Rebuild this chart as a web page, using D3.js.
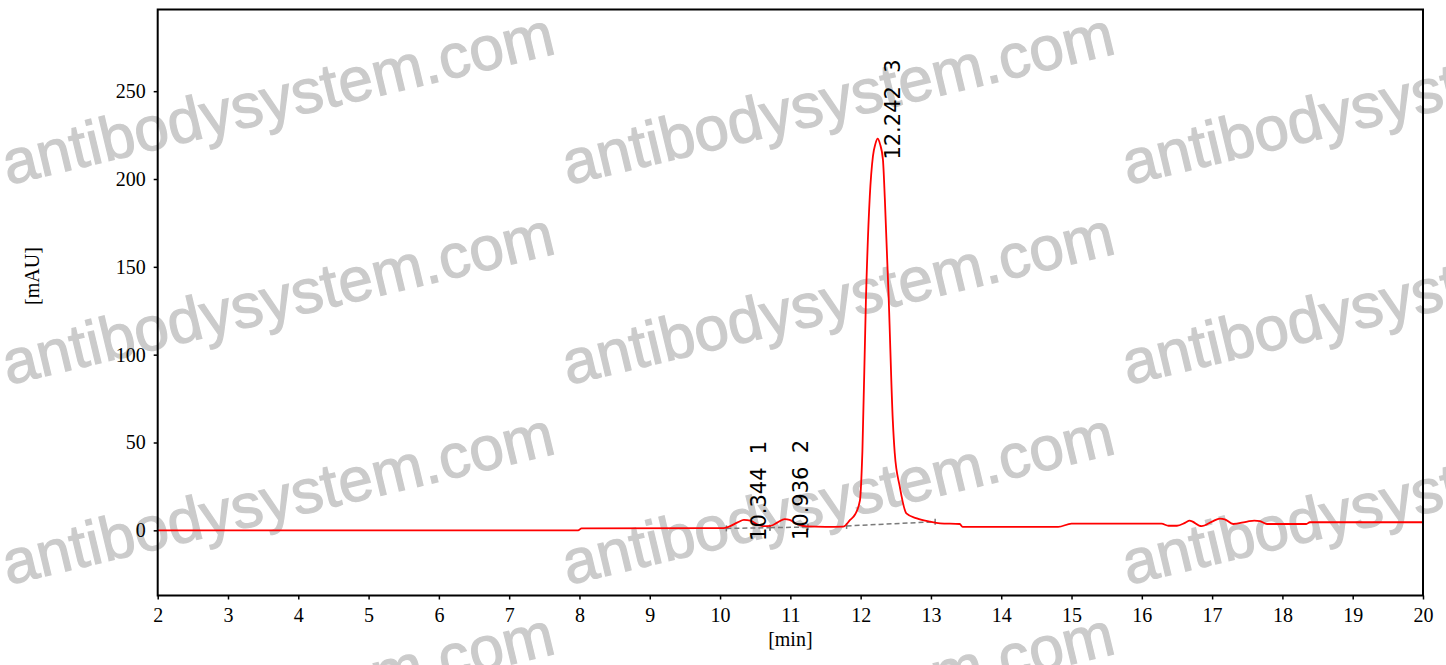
<!DOCTYPE html>
<html>
<head>
<meta charset="utf-8">
<script src="https://cdn.jsdelivr.net/npm/d3@7"></script>
<style>
  body { margin: 0; background: #fff; }
  svg { display: block; }
</style>
</head>
<body>
<svg id="chart" width="1446" height="665"></svg>
<script>
// trace: retention time [min] and signal [mAU]
const times  = [2.0, 7.98, 8.03, 10.05, 10.12, 10.25, 10.34, 10.43, 10.55, 10.62, 10.72, 10.82, 10.92, 10.99, 11.10, 11.23, 11.50, 11.75,
                11.85, 11.92, 11.99, 12.025, 12.075, 12.13, 12.175, 12.21, 12.242, 12.275, 12.317, 12.345, 12.40, 12.457, 12.485, 12.556,
                12.65, 12.80, 12.99, 13.13, 13.41, 13.45, 14.81, 15.0, 16.28, 16.38, 16.5, 16.62, 16.68, 16.85, 17.0, 17.11, 17.18,
                17.30, 17.5, 17.6, 17.68, 17.78, 18.34, 18.39, 20.0];
const signal = [0, 0, 1.1, 1.3, 2.0, 4.5, 5.9, 5.5, 3.0, 2.4, 2.5, 4.5, 6.4, 5.9, 3.5, 2.2, 2.0, 2.1,
                5.9, 9, 17, 45, 131, 190, 213, 220, 223, 220, 211, 188, 131, 63, 44, 25,
                9.7, 6.8, 4.9, 4.0, 3.6, 2.0, 2.0, 3.8, 3.8, 2.6, 2.6, 4.4, 5.5, 2.4, 5.0, 6.7, 6.3,
                3.6, 5.0, 5.5, 5.2, 3.6, 3.6, 4.6, 4.6];

// integrated peaks
const peakTimes  = [10.344, 10.936, 12.242];
const peakNums   = [1, 2, 3];
const peakApex   = [5.9, 6.4, 223];

// integration baselines [t0, v0, t1, v1]
const baseLines = [[10.09, 1.1, 10.71, 1.5], [10.71, 1.5, 11.25, 1.9], [11.80, 2.5, 13.06, 4.9]];

const xTicks = d3.range(2, 21, 1);
const yTicks = [0, 50, 100, 150, 200, 250];

const wmText = "antibodysystem.com";
const wmCols = [8, 568, 1128];
const wmRows = [185, 385, 585, 785];

const svg = d3.select("#chart");
const plotL = 157.7, plotR = 1423, plotT = 9.5, plotB = 595.5;

const x = d3.scaleLinear().domain([2, 20]).range([plotL, plotR]);
const y = d3.scaleLinear().domain([-37.1, 296.5]).range([plotB, plotT]);

// watermark underneath everything
const wm = svg.append("g");
wmRows.forEach(ry => {
  wmCols.forEach(cx => {
    wm.append("text")
      .attr("transform", `translate(${cx},${ry}) rotate(-13.5)`)
      .attr("font-family", "'Liberation Sans', Arial, sans-serif")
      .attr("font-size", 62)
      .attr("fill", "#cbcbcb")
      .attr("stroke", "#cbcbcb")
      .attr("stroke-width", 1.2)
      .text(wmText);
  });
});

// axes
const xAxis = svg.append("g")
  .attr("transform", `translate(0,${plotB})`)
  .call(d3.axisBottom(x).tickValues(xTicks).tickSize(4).tickPadding(8).tickFormat(d3.format("d")));
const yAxis = svg.append("g")
  .attr("transform", `translate(${plotL},0)`)
  .call(d3.axisLeft(y).tickValues(yTicks).tickSize(4).tickPadding(8).tickFormat(d3.format("d")));

[xAxis, yAxis].forEach(a => {
  a.select(".domain").remove();
  a.selectAll("line").attr("stroke", "#000").attr("stroke-width", 1.5);
  a.selectAll("text")
    .attr("font-family", "'Liberation Serif', 'Times New Roman', serif")
    .attr("font-size", 20)
    .attr("fill", "#000");
});

svg.append("text")
  .attr("x", (plotL + plotR) / 2)
  .attr("y", 646)
  .attr("text-anchor", "middle")
  .attr("font-family", "'Liberation Serif', 'Times New Roman', serif")
  .attr("font-size", 20)
  .text("[min]");

svg.append("text")
  .attr("transform", "translate(39,276) rotate(-90)")
  .attr("text-anchor", "middle")
  .attr("font-family", "'Liberation Serif', 'Times New Roman', serif")
  .attr("font-size", 20)
  .text("[mAU]");

// integration baselines
const bl = svg.append("g");
baseLines.forEach(b => {
  bl.append("line")
    .attr("x1", x(b[0])).attr("y1", y(b[1]))
    .attr("x2", x(b[2])).attr("y2", y(b[3]))
    .attr("stroke", "#7a7a7a").attr("stroke-width", 1.5)
    .attr("stroke-dasharray", "5,3");
  [[b[0], b[1]], [b[2], b[3]]].forEach(p => {
    bl.append("line")
      .attr("x1", x(p[0])).attr("x2", x(p[0]))
      .attr("y1", y(p[1]) - 3).attr("y2", y(p[1]) + 3)
      .attr("stroke", "#7a7a7a").attr("stroke-width", 1.5);
  });
});

// trace
const pts = times.map((t, i) => [t, signal[i]]);
const line = d3.line()
  .x(d => x(d[0]))
  .y(d => y(d[1]))
  .curve(d3.curveMonotoneX);

svg.append("path")
  .datum(pts)
  .attr("d", line)
  .attr("fill", "none")
  .attr("stroke", "#ff0000")
  .attr("stroke-width", 1.8);

// peak labels
peakTimes.forEach((t, i) => {
  svg.append("text")
    .attr("transform", `translate(${x(t) + 22},${y(peakApex[i]) + 21}) rotate(-90)`)
    .attr("font-family", "'DejaVu Sans', Verdana, sans-serif")
    .attr("font-size", 21)
    .attr("fill", "#000")
    .style("white-space", "pre")
    .text(t.toFixed(3) + "  " + peakNums[i]);
});

// frame
svg.append("rect")
  .attr("x", plotL).attr("y", plotT)
  .attr("width", plotR - plotL).attr("height", plotB - plotT)
  .attr("fill", "none")
  .attr("stroke", "#000")
  .attr("stroke-width", 2);
</script>
</body>
</html>
